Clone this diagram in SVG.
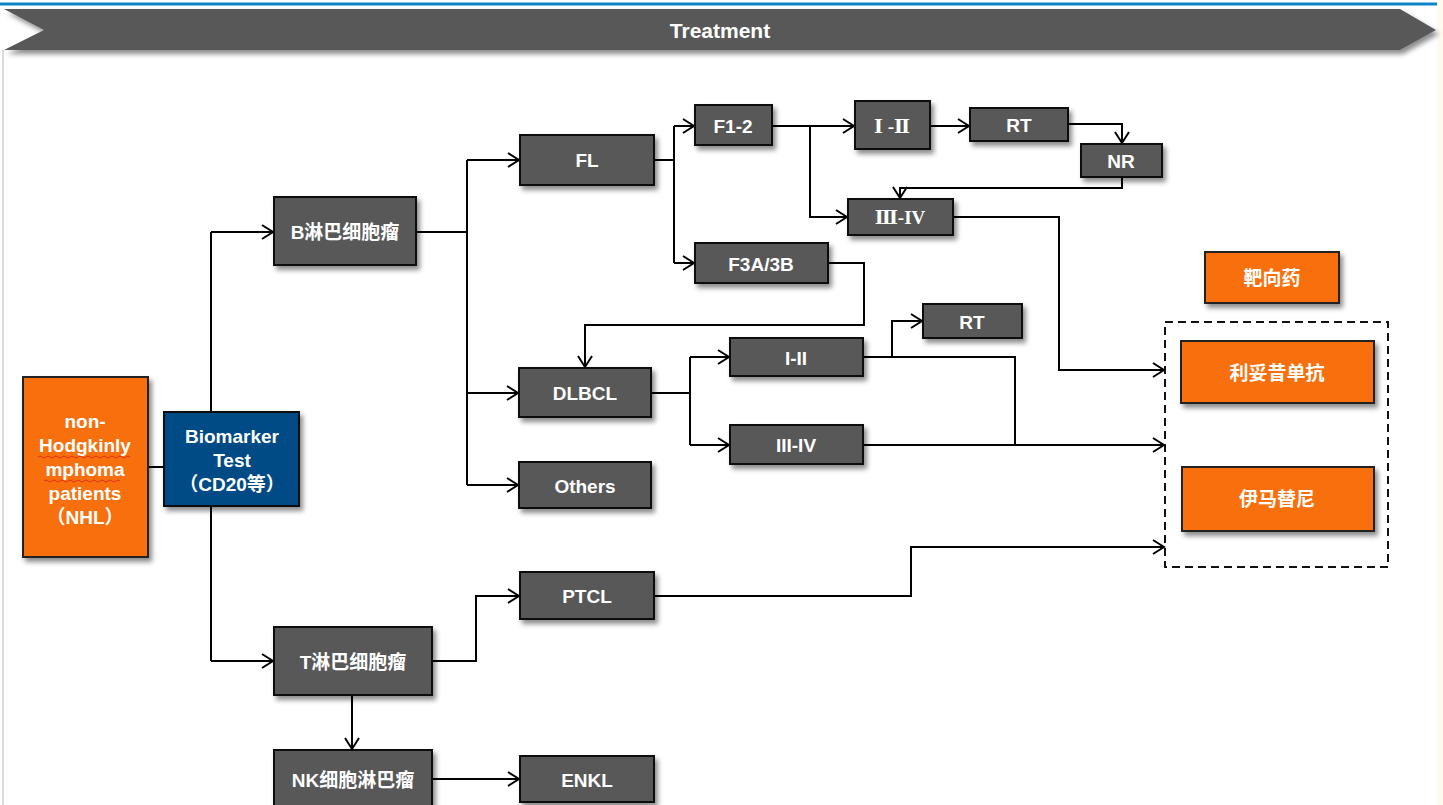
<svg xmlns="http://www.w3.org/2000/svg" width="1443" height="805" viewBox="0 0 1443 805">
<defs>
<filter id="sh" x="-10%" y="-10%" width="130%" height="140%">
<feDropShadow dx="3" dy="4" stdDeviation="2.5" flood-color="#000" flood-opacity="0.45"/>
</filter>
<marker id="ar" markerUnits="userSpaceOnUse" markerWidth="14" markerHeight="16" refX="12" refY="8" orient="auto" viewBox="0 0 14 16">
<path d="M1,1 L12,8 L1,15" fill="none" stroke="#000" stroke-width="2"/>
</marker>
</defs>
<style>
.n{fill:#595959;stroke:#111;stroke-width:2}
.o{fill:#f77008;stroke:#222;stroke-width:2}
.b{fill:#004b85;stroke:#111;stroke-width:2}
.t{font-family:"Liberation Sans","Noto Sans CJK SC",Arial,sans-serif;font-weight:bold;font-size:19px;fill:#fff;text-anchor:middle;dominant-baseline:central}
.s{font-family:"Liberation Serif","DejaVu Serif","Noto Sans CJK SC",serif;font-weight:bold;font-size:19px;fill:#fff;text-anchor:middle;dominant-baseline:central}
.c{fill:none;stroke:#000;stroke-width:2}
.ca{fill:none;stroke:#000;stroke-width:2;marker-end:url(#ar)}
</style>
<rect x="0" y="0" width="1443" height="805" fill="#fff"/>
<rect x="1437" y="0" width="6" height="805" fill="#fffaf0"/>
<line x1="0" y1="4" x2="1437" y2="4" stroke="#0a86c8" stroke-width="3"/>
<line x1="3" y1="50" x2="3" y2="805" stroke="#cfcfcf" stroke-width="1.5"/>
<g id="banner">
<polygon points="4,9 1400,9 1436,30 1400,50 4,50 44,30" fill="#595959" filter="url(#sh)"/>
<text x="720" y="30" class="t" style="font-size:21px">Treatment</text>
</g>
<g id="connectors">
<line class="c" x1="148" y1="467" x2="164" y2="467"/>
<polyline class="c" points="211,412 211,232"/>
<polyline class="c" points="211,506 211,661"/>
<line class="ca" x1="211" y1="232" x2="273" y2="232"/>
<line class="ca" x1="211" y1="661" x2="273" y2="661"/>
<polyline class="c" points="416,232 467,232"/>
<polyline class="c" points="467,160 467,485"/>
<line class="ca" x1="467" y1="160" x2="519" y2="160"/>
<line class="ca" x1="467" y1="393" x2="518" y2="393"/>
<line class="ca" x1="467" y1="485" x2="518" y2="485"/>
<polyline class="c" points="654,160 674,160"/>
<polyline class="c" points="674,126 674,263"/>
<line class="ca" x1="674" y1="126" x2="694" y2="126"/>
<line class="ca" x1="674" y1="263" x2="694" y2="263"/>
<line class="ca" x1="772" y1="126" x2="854" y2="126"/>
<polyline class="ca" points="810,126 810,217 847,217"/>
<line class="ca" x1="930" y1="126" x2="969" y2="126"/>
<polyline class="ca" points="1068,124 1122,124 1122,143"/>
<polyline class="ca" points="1122,177 1122,188 900,188 900,198"/>
<polyline class="ca" points="953,217 1059,217 1059,370 1164,370"/>
<polyline class="ca" points="828,263 864,263 864,325 585,325 585,367"/>
<polyline class="c" points="651,393 690,393"/>
<polyline class="c" points="690,357 690,445"/>
<line class="ca" x1="690" y1="357" x2="729" y2="357"/>
<line class="ca" x1="690" y1="445" x2="729" y2="445"/>
<polyline class="ca" points="892,357 892,321 922,321"/>
<polyline class="c" points="863,357 1015,357 1015,445"/>
<line class="ca" x1="863" y1="445" x2="1164" y2="445"/>
<polyline class="ca" points="654,596 911,596 911,547 1164,547"/>
<polyline class="ca" points="432,661 476,661 476,596 519,596"/>
<line class="ca" x1="352" y1="695" x2="352" y2="749"/>
<line class="ca" x1="432" y1="779" x2="519" y2="779"/>
</g>
<g id="nhl">
<rect class="o" x="23" y="377" width="125" height="180" filter="url(#sh)"/>
<text class="t" x="85" y="421">non-</text>
<text class="t" x="85" y="445">Hodgkinly</text>
<text class="t" x="85" y="469">mphoma</text>
<text class="t" x="85" y="493">patients</text>
<text class="t" x="85" y="517">（NHL）</text>
<path d="M38,457 q2,-2 4,0 t4,0 t4,0 t4,0 t4,0 t4,0 t4,0 t4,0 t4,0 t4,0 t4,0 t4,0 t4,0 t4,0 t4,0 t4,0 t4,0 t4,0 t4,0 t4,0 t4,0 t4,0 t4,0" fill="none" stroke="#e0301e" stroke-width="1"/>
<path d="M44,481 q2,-2 4,0 t4,0 t4,0 t4,0 t4,0 t4,0 t4,0 t4,0 t4,0 t4,0 t4,0 t4,0 t4,0 t4,0 t4,0 t4,0 t4,0 t4,0 t4,0" fill="none" stroke="#e0301e" stroke-width="1"/>
</g>
<g id="biomarker">
<rect class="b" x="164" y="412" width="135" height="94" filter="url(#sh)"/>
<text class="t" x="232" y="436">Biomarker</text>
<text class="t" x="232" y="460">Test</text>
<text class="t" x="232" y="484">（CD20等）</text>
</g>
<g id="b-cell"><rect class="n" x="274" y="197" width="142" height="68" filter="url(#sh)"/><text class="t" x="345" y="232">B淋巴细胞瘤</text></g>
<g id="fl"><rect class="n" x="520" y="135" width="134" height="50" filter="url(#sh)"/><text class="t" x="587" y="160">FL</text></g>
<g id="f12"><rect class="n" x="695" y="105" width="77" height="40" filter="url(#sh)"/><text class="t" x="733" y="126">F1-2</text></g>
<g id="stage12a"><rect class="n" x="855" y="101" width="75" height="48" filter="url(#sh)"/><text class="s" x="892" y="126">Ⅰ -Ⅱ</text></g>
<g id="rt1"><rect class="n" x="970" y="108" width="98" height="33" filter="url(#sh)"/><text class="t" x="1019" y="125">RT</text></g>
<g id="nr"><rect class="n" x="1081" y="144" width="81" height="33" filter="url(#sh)"/><text class="t" x="1121" y="161">NR</text></g>
<g id="stage34a"><rect class="n" x="848" y="199" width="105" height="36" filter="url(#sh)"/><text class="s" x="900" y="217">Ⅲ-IV</text></g>
<g id="f3a"><rect class="n" x="695" y="243" width="133" height="40" filter="url(#sh)"/><text class="t" x="761" y="264">F3A/3B</text></g>
<g id="rt2"><rect class="n" x="923" y="304" width="99" height="34" filter="url(#sh)"/><text class="t" x="972" y="322">RT</text></g>
<g id="dlbcl"><rect class="n" x="519" y="368" width="132" height="49" filter="url(#sh)"/><text class="t" x="585" y="393">DLBCL</text></g>
<g id="stage12b"><rect class="n" x="730" y="338" width="133" height="38" filter="url(#sh)"/><text class="t" x="796" y="358">I-II</text></g>
<g id="stage34b"><rect class="n" x="730" y="425" width="133" height="39" filter="url(#sh)"/><text class="t" x="796" y="445">III-IV</text></g>
<g id="others"><rect class="n" x="519" y="462" width="132" height="46" filter="url(#sh)"/><text class="t" x="585" y="486">Others</text></g>
<g id="ptcl"><rect class="n" x="520" y="572" width="134" height="47" filter="url(#sh)"/><text class="t" x="587" y="596">PTCL</text></g>
<g id="t-cell"><rect class="n" x="274" y="627" width="158" height="68" filter="url(#sh)"/><text class="t" x="353" y="662">T淋巴细胞瘤</text></g>
<g id="nk-cell"><rect class="n" x="274" y="750" width="158" height="70" filter="url(#sh)"/><text class="t" x="353" y="780">NK细胞淋巴瘤</text></g>
<g id="enkl"><rect class="n" x="520" y="756" width="134" height="46" filter="url(#sh)"/><text class="t" x="587" y="780">ENKL</text></g>
<g id="target"><rect class="o" x="1205" y="252" width="134" height="51" filter="url(#sh)"/><text class="t" x="1272" y="278">靶向药</text></g>
<g id="drug-group"><rect x="1165" y="322" width="223" height="245" fill="none" stroke="#111" stroke-width="2" stroke-dasharray="8,5"/></g>
<g id="rituximab"><rect class="o" x="1181" y="341" width="193" height="62" filter="url(#sh)"/><text class="t" x="1277" y="373">利妥昔单抗</text></g>
<g id="imatinib"><rect class="o" x="1182" y="467" width="192" height="64" filter="url(#sh)"/><text class="t" x="1277" y="499">伊马替尼</text></g>
</svg>
